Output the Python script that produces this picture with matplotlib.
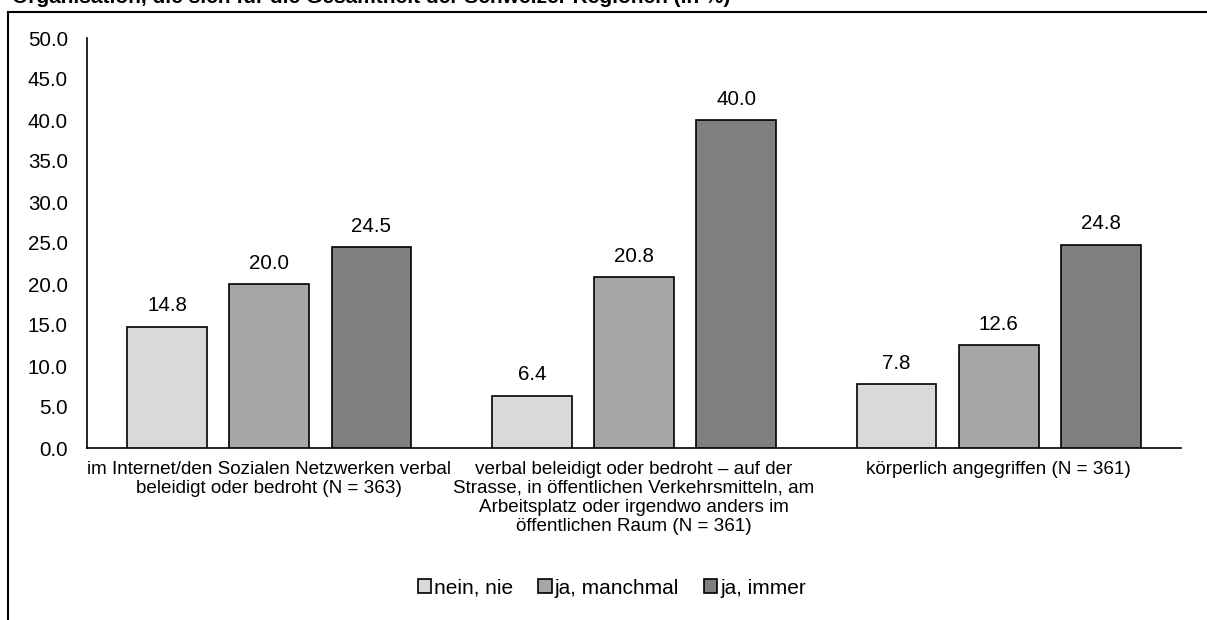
import matplotlib
matplotlib.use("Agg")
import matplotlib.pyplot as plt
import matplotlib.patches as mpatches
import numpy as np

plt.rcParams['font.family'] = ['Liberation Sans', 'DejaVu Sans']

categories = [
    "im Internet/den Sozialen Netzwerken verbal\nbeleidigt oder bedroht (N = 363)",
    "verbal beleidigt oder bedroht – auf der\nStrasse, in öffentlichen Verkehrsmitteln, am\nArbeitsplatz oder irgendwo anders im\nöffentlichen Raum (N = 361)",
    "körperlich angegriffen (N = 361)",
]
series_names = ["nein, nie", "ja, manchmal", "ja, immer"]
values = {
    "nein, nie": [14.8, 6.4, 7.8],
    "ja, manchmal": [20.0, 20.8, 12.6],
    "ja, immer": [24.5, 40.0, 24.8],
}
yticks = [0, 5, 10, 15, 20, 25, 30, 35, 40, 45, 50]
title = "Organisation, die sich für die Gesamtheit der Schweizer Regionen (in %)"

colors = ["#d9d9d9", "#a6a6a6", "#808080"]

fig = plt.figure(figsize=(12.07, 6.2), dpi=100)
ax = fig.add_axes([87/1207, 1-448/620, (1181-87)/1207, (448-38)/620])

x = np.arange(len(categories))
width = 0.219
offsets = [-0.28, 0.0, 0.28]
for name, col, off in zip(series_names, colors, offsets):
    bars = ax.bar(x + off, values[name], width, color=col, edgecolor="black",
                  linewidth=1.2, label=name, zorder=3)
    for b, v in zip(bars, values[name]):
        ax.text(b.get_x() + b.get_width()/2, v + 1.85, f"{v:.1f}",
                ha="center", va="baseline", fontsize=14.8)

ax.set_xlim(-0.5, len(categories) - 0.5)
ax.set_ylim(0, 50)
ax.set_yticks(yticks)
ax.set_yticklabels([f"{t:.1f}" for t in yticks], fontsize=14.8)
ax.set_xticks(x)
ax.set_xticklabels(categories, fontsize=13.6, linespacing=1.16, va="top")
ax.tick_params(axis="both", length=0)
ax.tick_params(axis="x", pad=9)
ax.tick_params(axis="y", pad=13.7)
for s in ["top", "right"]:
    ax.spines[s].set_visible(False)
ax.spines["left"].set_linewidth(1.2)
ax.spines["bottom"].set_linewidth(1.2)

leg = fig.legend(loc="center", bbox_to_anchor=(612/1207, 1-588/620), ncol=3,
                 frameon=False, fontsize=15, handlelength=0.63, handleheight=0.63,
                 handletextpad=0.15, columnspacing=1.2, borderpad=0)

# outer frame
frame = mpatches.Rectangle((8/1207, -0.05), 1.1, 1 - 12/620 + 0.05,
                           transform=fig.transFigure, fill=False,
                           edgecolor="black", linewidth=1.5)
fig.patches.append(frame)

fig.text(12/1207, 1 - 3/620, title, fontsize=15, fontweight="bold",
         ha="left", va="baseline")

fig.savefig("out.png", dpi=100)
